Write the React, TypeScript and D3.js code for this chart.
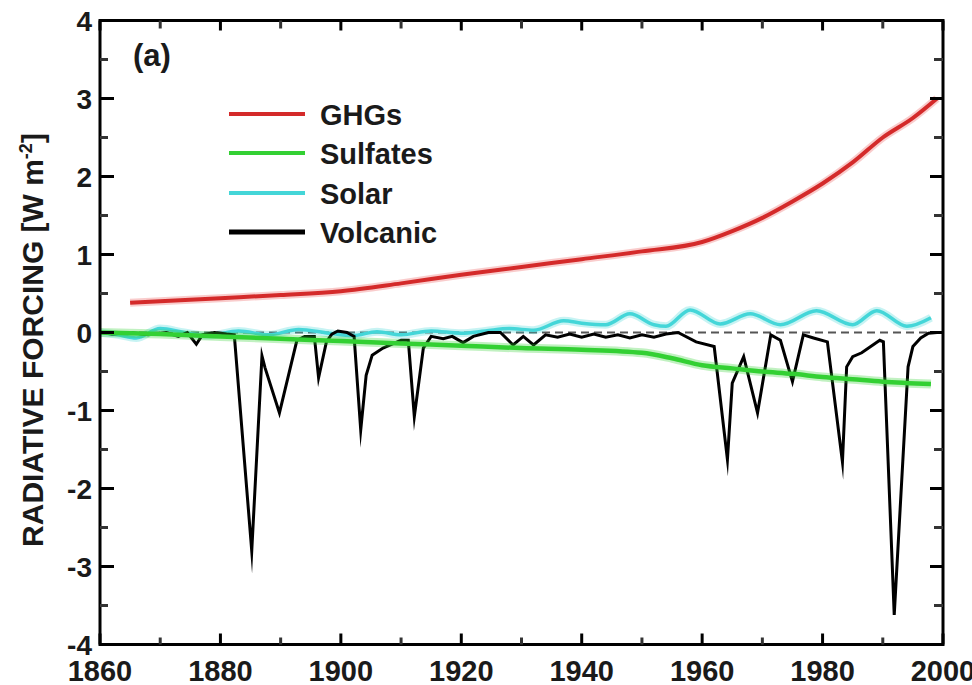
import React from "react";
import * as d3 from "d3";

// ---- data ----
const ghgYears = [1865, 1870, 1880, 1890, 1900, 1910, 1920, 1930, 1940, 1950, 1960, 1965, 1970, 1975, 1980, 1985, 1990, 1995, 1999];
const ghgValues = [0.38, 0.40, 0.44, 0.48, 0.53, 0.63, 0.74, 0.84, 0.94, 1.04, 1.16, 1.30, 1.47, 1.68, 1.91, 2.18, 2.50, 2.75, 3.0];

const sulfYears = [1860, 1870, 1880, 1890, 1900, 1910, 1920, 1930, 1940, 1950, 1955, 1960, 1965, 1970, 1975, 1980, 1985, 1990, 1998];
const sulfValues = [0, -0.02, -0.05, -0.08, -0.11, -0.14, -0.17, -0.2, -0.22, -0.26, -0.33, -0.42, -0.46, -0.5, -0.53, -0.57, -0.6, -0.63, -0.66];

const solarYears = [1860, 1863, 1866, 1870, 1874, 1878, 1883, 1888, 1893, 1898, 1902, 1906, 1910, 1915, 1920, 1924, 1928, 1932, 1937, 1940, 1944, 1948, 1952, 1954, 1958, 1963, 1968, 1973, 1979, 1985, 1989, 1994, 1998];
const solarValues = [0.0, -0.03, -0.07, 0.05, 0.0, -0.04, 0.02, -0.03, 0.04, -0.01, -0.04, 0.01, -0.03, 0.02, -0.01, 0.02, 0.05, 0.03, 0.15, 0.12, 0.1, 0.24, 0.1, 0.08, 0.29, 0.11, 0.24, 0.1, 0.28, 0.1, 0.28, 0.08, 0.19];

const volcYears = [1860, 1862, 1865, 1868, 1871, 1873, 1874.5, 1876, 1877, 1879, 1881, 1882.3, 1885.2, 1886.9, 1887.4, 1889.8, 1892.7, 1894, 1895.6, 1896.3, 1897.6, 1898.5, 1899.5, 1901, 1902.2, 1903.3, 1904.2, 1905.2, 1907, 1908.5, 1910, 1911.2, 1912.2, 1913.7, 1915, 1917, 1918.5, 1920.3, 1922, 1924.5, 1926.5, 1928.6, 1930.3, 1932, 1934, 1936, 1938, 1940, 1942, 1944, 1946, 1948, 1950, 1952, 1954, 1956, 1959, 1962, 1964.2, 1965, 1966.9, 1969.2, 1971.4, 1973, 1975, 1976.8, 1978.5, 1980.8, 1983.3, 1984, 1985, 1986.5, 1989.5, 1990.1, 1991.9, 1994.2, 1995, 1996.3, 1997.6, 1999];
const volcValues = [0, -0.02, 0, -0.03, 0, -0.05, 0, -0.15, -0.03, 0, -0.02, -0.03, -2.8, -0.3, -0.45, -1.03, -0.1, -0.05, -0.05, -0.58, -0.12, -0.02, 0.02, 0, -0.05, -1.25, -0.55, -0.29, -0.2, -0.15, -0.1, -0.1, -1.08, -0.2, -0.05, -0.08, -0.05, -0.13, -0.05, 0, 0, -0.16, -0.05, -0.16, -0.03, -0.06, -0.02, -0.06, -0.02, -0.06, -0.03, -0.07, -0.03, -0.06, -0.02, 0, -0.12, -0.18, -1.63, -0.65, -0.31, -1.03, -0.03, -0.1, -0.63, -0.03, -0.07, -0.12, -1.66, -0.44, -0.31, -0.26, -0.1, -0.12, -3.62, -0.44, -0.18, -0.07, -0.01, 0];

const xTicks = [1860, 1880, 1900, 1920, 1940, 1960, 1980, 2000];
const xMinor = [1870, 1890, 1910, 1930, 1950, 1970, 1990];
const yTicks = [-4, -3, -2, -1, 0, 1, 2, 3, 4];
const yMinor = [-3.5, -2.5, -1.5, -0.5, 0.5, 1.5, 2.5, 3.5];

const legendLabels = ["GHGs", "Sulfates", "Solar", "Volcanic"];

const FONT = "'Liberation Sans', Arial, Helvetica, sans-serif";

export default function App() {
  const W = 972, H = 685;
  const L = 100, R = 943, T = 20.5, B = 644.5;
  const x = d3.scaleLinear().domain([1860, 2000]).range([L, R]);
  const y = d3.scaleLinear().domain([-4, 4]).range([B, T]);

  const smooth = d3.line<[number, number]>().x(d => x(d[0])).y(d => y(d[1])).curve(d3.curveMonotoneX);
  const straight = d3.line<[number, number]>().x(d => x(d[0])).y(d => y(d[1]));

  const zip = (a: number[], b: number[]) => a.map((v, i) => [v, b[i]] as [number, number]);
  const ghgPath = smooth(zip(ghgYears, ghgValues)) || "";
  const sulfPath = smooth(zip(sulfYears, sulfValues)) || "";
  const solarPath = smooth(zip(solarYears, solarValues)) || "";
  const volcPath = straight(zip(volcYears, volcValues)) || "";

  const colors = { ghg: "#d42a2a", sulf: "#33d033", solar: "#44d6d8", volc: "#000000" };
  const legendColors = [colors.ghg, colors.sulf, colors.solar, colors.volc];
  const legendY = [114, 153, 193, 232];

  return (
    <svg width={W} height={H} style={{ position: "absolute", left: 0, top: 0, background: "#fff" }} fontFamily={FONT}>
      {/* zero dashed line */}
      <line x1={L} x2={R} y1={y(0)} y2={y(0)} stroke="#555" strokeWidth={2} strokeDasharray="8,5" />

      {/* solar */}
      <path d={solarPath} fill="none" stroke={colors.solar} strokeOpacity={0.3} strokeWidth={8} />
      <path d={solarPath} fill="none" stroke={colors.solar} strokeWidth={3.5} />

      {/* volcanic */}
      <path d={volcPath} fill="none" stroke={colors.volc} strokeWidth={3} strokeLinejoin="miter" strokeMiterlimit={20} />

      {/* sulfates */}
      <path d={sulfPath} fill="none" stroke={colors.sulf} strokeOpacity={0.3} strokeWidth={9} />
      <path d={sulfPath} fill="none" stroke={colors.sulf} strokeWidth={4.5} />

      {/* GHGs */}
      <path d={ghgPath} fill="none" stroke="#f08080" strokeOpacity={0.4} strokeWidth={8} />
      <path d={ghgPath} fill="none" stroke={colors.ghg} strokeWidth={4} />

      {/* frame */}
      <rect x={L} y={T} width={R - L} height={B - T} fill="none" stroke="#000" strokeWidth={3} />

      {/* ticks */}
      {xTicks.map(t => (
        <g key={"xt" + t}>
          <line x1={x(t)} x2={x(t)} y1={B} y2={B - 11} stroke="#000" strokeWidth={3} />
          <line x1={x(t)} x2={x(t)} y1={T} y2={T + 10} stroke="#000" strokeWidth={3} />
        </g>
      ))}
      {xMinor.map(t => (
        <g key={"xm" + t}>
          <line x1={x(t)} x2={x(t)} y1={B} y2={B - 7} stroke="#333" strokeWidth={3} />
          <line x1={x(t)} x2={x(t)} y1={T} y2={T + 8} stroke="#333" strokeWidth={3} />
        </g>
      ))}
      {yTicks.map(t => (
        <g key={"yt" + t}>
          <line x1={L} x2={L + 14} y1={y(t)} y2={y(t)} stroke="#000" strokeWidth={3} />
          <line x1={R} x2={R - 13} y1={y(t)} y2={y(t)} stroke="#000" strokeWidth={3} />
        </g>
      ))}
      {yMinor.map(t => (
        <g key={"ym" + t}>
          <line x1={L} x2={L + 8} y1={y(t)} y2={y(t)} stroke="#333" strokeWidth={3} />
          <line x1={R} x2={R - 9} y1={y(t)} y2={y(t)} stroke="#333" strokeWidth={3} />
        </g>
      ))}

      {/* tick labels */}
      {yTicks.map(t => (
        <text key={"yl" + t} x={92} y={y(t) + 10} fontSize={28} fontWeight="bold" textAnchor="end" fill="#1a1a1a">
          {t < 0 ? "-" + Math.abs(t) : String(t)}
        </text>
      ))}
      {xTicks.map(t => (
        <text key={"xl" + t} x={x(t)} y={681} fontSize={29} fontWeight="bold" textAnchor="middle" fill="#1a1a1a">
          {t}
        </text>
      ))}

      {/* y axis title */}
      <text transform="translate(43,340) rotate(-90)" fontSize={30} fontWeight="bold" textAnchor="middle" fill="#1a1a1a">
        RADIATIVE FORCING [W m<tspan dy={-11} fontSize={18}>-2</tspan><tspan dy={11}>]</tspan>
      </text>

      {/* panel label */}
      <text x={133} y={66} fontSize={31} fontWeight="bold" fill="#1a1a1a">(a)</text>

      {/* legend */}
      {legendLabels.map((lab, i) => (
        <g key={lab}>
          <line x1={229} x2={305} y1={legendY[i]} y2={legendY[i]} stroke={legendColors[i]} strokeWidth={i === 3 ? 5 : 4} />
          <text x={320} y={legendY[i] + 11} fontSize={29} fontWeight="bold" fill="#1a1a1a">{lab}</text>
        </g>
      ))}
    </svg>
  );
}
